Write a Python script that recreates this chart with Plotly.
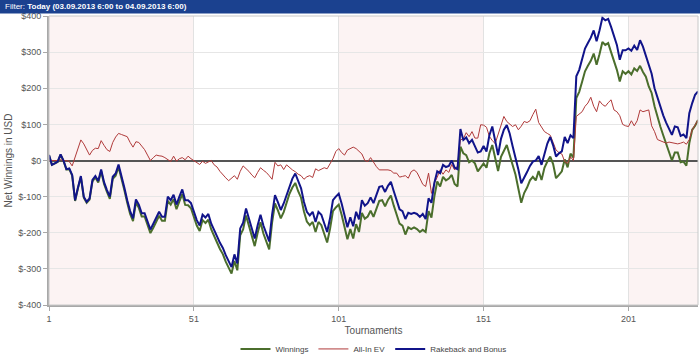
import plotly.graph_objects as go

# Tournament numbers
tournaments = list(range(1, 226))

winnings = [
    15, -12, -8, -4, 16, -1, -25, -24, -42, -112,
    -77, -46, -103, -117, -108, -58, -47, -61, -30, -65,
    -87, -106, -51, -42, -18, -47, -82, -117, -148, -168,
    -116, -131, -155, -155, -180, -201, -186, -169, -153, -167,
    -167, -112, -122, -107, -135, -113, -93, -123, -124, -132,
    -154, -180, -195, -165, -173, -164, -191, -211, -227, -245,
    -259, -280, -298, -313, -278, -304, -207, -191, -152, -180,
    -210, -237, -201, -171, -202, -227, -246, -172, -119, -138,
    -160, -143, -119, -92, -75, -62, -85, -103, -141, -169,
    -179, -170, -198, -170, -179, -204, -227, -189, -140, -130,
    -122, -150, -182, -218, -190, -216, -176, -198, -145, -161,
    -155, -139, -156, -133, -112, -110, -127, -109, -97, -125,
    -150, -175, -180, -205, -185, -190, -185, -190, -198, -192,
    -198, -140, -158, -100, -58, -72, -45, -55, -50, -40,
    -65, -72, 38, 20, 15, -5, 0, -8, -30, -20,
    -8, -20, 20, 43, 6, -29, 10, 29, 43, 15,
    -10, -39, -78, -117, -90, -75, -55, -45, -55, -29,
    -54, -20, -3, 11, -10, -49, -40, -30, 3, -19,
    19, 8, 173, 190, 218, 247, 262, 276, 296, 265,
    294, 328, 320, 325, 300, 276, 251, 219, 247, 240,
    247, 238, 255, 248, 262, 245, 232, 205, 187, 150,
    120, 94, 70, 45, 20, 0, 22, 22, -5, -3,
    -14, 48, 85, 96, 112,
]

all_in_ev = [
    0, 0, 2, 0, 3, -2, 0, -3, -15, 10,
    35, 57, 46, 30, 15, 28, 34, 33, 55, 42,
    30, 25, 50, 65, 75, 72, 68, 66, 50, 37,
    52, 50, 40, 30, 15, 0, 8, 15, 13, 12,
    8, 2, -3, 12, -2, 5, 8, 2, 12, 5,
    0, -5, -11, -2, -8, -4, 0, -12, -18, -30,
    -40, -48, -56, -48, -42, -52, -30, -15, -22, -30,
    -40, -48, -33, -20, -27, -33, -42, -52, -5, -15,
    -12, -25, -12, -20, -26, -31, -38, -42, -52, -45,
    -42, -47, -23, -28, -25, -20, -23, -10, 5, 25,
    33, 22, 15, 29, 33, 37, 33, 25, 18, 0,
    -3, 8, -5, -17, -26, -26, -24, -26, -28, -35,
    -35, -46, -44, -42, -49, -31, -26, -33, -49, -66,
    -72, -35, -91, -63, -46, -26, -38, -26, -33, -11,
    -26, -15, 57, 60, 77, 66, 80, 62, 62, 99,
    98, 92, 67, 55, 47, 70, 94, 122, 108, 100,
    94, 99, 85, 95, 108, 105, 110, 127, 142, 105,
    92, 80, 75, 70, 50, 29, 22, 18, -3, -8,
    10, 0, 122, 128, 135, 150, 159, 175, 150, 135,
    165, 155, 150, 160, 168, 140, 135, 124, 100, 96,
    94, 110, 96, 110, 140, 135, 137, 140, 96, 80,
    58, 55, 50, 48, 51, 50, 48, 46, 48, 51,
    45, 58, 85, 100, 112,
]

rakeback_and_bonus = [
    15, -12, -8, -3, 17, 0, -24, -22, -40, -110,
    -75, -43, -100, -114, -105, -54, -43, -57, -25, -60,
    -82, -100, -45, -36, -11, -40, -75, -110, -140, -160,
    -108, -122, -146, -146, -170, -191, -175, -158, -142, -156,
    -156, -100, -110, -95, -122, -100, -80, -110, -110, -118,
    -140, -165, -180, -150, -158, -148, -175, -195, -210, -228,
    -242, -262, -280, -295, -260, -285, -188, -172, -133, -160,
    -190, -216, -180, -150, -180, -205, -224, -150, -96, -115,
    -137, -119, -95, -68, -50, -36, -59, -77, -115, -142,
    -152, -142, -170, -142, -150, -175, -198, -160, -110, -100,
    -92, -119, -151, -185, -157, -182, -142, -163, -110, -125,
    -118, -102, -118, -95, -73, -71, -87, -70, -59, -85,
    -110, -135, -140, -162, -145, -148, -145, -148, -156, -148,
    -162, -105, -117, -62, -30, -35, -12, -18, -15, 0,
    -20, -24, 87, 57, 64, 48, 57, 40, 22, 25,
    40, 25, 70, 94, 52, 15, 60, 85, 98, 75,
    40, 11, -25, -63, -45, -32, -15, -3, 0, 12,
    -12, 20, 47, 65, 42, 11, 20, 25, 65, 48,
    70, 62, 233, 251, 280, 310, 325, 340, 360, 330,
    360, 395, 388, 392, 370, 345, 320, 279, 305, 305,
    310, 304, 318, 306, 333, 315, 290, 265, 240, 200,
    175, 145, 125, 105, 89, 71, 94, 92, 68, 72,
    62, 131, 159, 182, 191,
]

x_tick_values = [1, 51, 101, 151, 201]
y_tick_values = [-400, -300, -200, -100, 0, 100, 200, 300, 400]
y_tick_labels = ["$-400", "$-300", "$-200", "$-100", "$0", "$100", "$200", "$300", "$400"]
band_edges = [1, 51, 101, 151, 201, 225]

header_text = "Filter: <b>Today (03.09.2013 6:00 to 04.09.2013 6:00)</b>"

FONT = "Liberation Sans"
NARROW = "Liberation Sans Narrow, Liberation Sans, Arial"

fig = go.Figure()
fig.add_trace(go.Scatter(x=tournaments, y=winnings, name="Winnings", mode="lines",
                         line=dict(color="#4b6e2c", width=2)))
fig.add_trace(go.Scatter(x=tournaments, y=all_in_ev, name="All-In EV", mode="lines",
                         line=dict(color="#b03a3a", width=1)))
fig.add_trace(go.Scatter(x=tournaments, y=rakeback_and_bonus, name="Rakeback and Bonus", mode="lines",
                         line=dict(color="#11148a", width=2)))

shapes = []
# alternating pink bands
for i in range(0, len(band_edges) - 1, 2):
    shapes.append(dict(type="rect", xref="x", yref="paper",
                       x0=band_edges[i], x1=band_edges[i + 1], y0=0, y1=1,
                       fillcolor="#fcf3f3", line=dict(width=0), layer="below"))
# plot border
shapes.append(dict(type="rect", xref="paper", yref="paper", x0=0, x1=1, y0=0, y1=1,
                   line=dict(color="#c8c8c8", width=1), layer="above"))
# header bar
shapes.append(dict(type="rect", xref="paper", yref="paper",
                   x0=-0.08, x1=1.01, y0=1.0085, y1=1.06,
                   fillcolor="#1b418f", line=dict(width=0), layer="above"))

fig.update_layout(
    width=700, height=354,
    margin=dict(l=49, r=2, t=16, b=49, autoexpand=False),
    paper_bgcolor="white", plot_bgcolor="white",
    font=dict(family=FONT, color="#555555", size=9),
    shapes=shapes,
    showlegend=True,
    legend=dict(orientation="h", x=0.5, xanchor="center", y=-0.152, yanchor="middle",
                font=dict(family=NARROW, size=8, color="#444444"), itemwidth=30,
                bgcolor="rgba(0,0,0,0)"),
    annotations=[dict(text=header_text, xref="paper", yref="paper", x=-0.071, y=1.033,
                      xanchor="left", yanchor="middle", showarrow=False,
                      font=dict(family=FONT, size=8, color="white"))],
    xaxis=dict(range=[1, 225], tickvals=x_tick_values, showgrid=True, gridcolor="#e2e2e2",
               gridwidth=1, zeroline=False, showline=True, linecolor="#a8a8a8", linewidth=2,
               ticks="outside", ticklen=4, tickcolor="#a8a8a8", automargin=False,
               tickfont=dict(family=NARROW, size=9, color="#555555"),
               title=dict(text="Tournaments", font=dict(family=NARROW, size=10, color="#555555"),
                          standoff=4)),
    yaxis=dict(range=[-400, 400], tickvals=y_tick_values, ticktext=y_tick_labels,
               showgrid=True, gridcolor="#e6e6e6", gridwidth=1,
               zeroline=True, zerolinecolor="#555555", zerolinewidth=2,
               showline=True, linecolor="#a8a8a8", linewidth=2,
               ticks="outside", ticklen=4, tickcolor="#a8a8a8", automargin=False,
               tickfont=dict(family=FONT, size=9, color="#555555"),
               title=dict(text="Net Winnings in USD", font=dict(family=FONT, size=10, color="#555555"),
                          standoff=4)),
)

fig.write_html("out.html")
